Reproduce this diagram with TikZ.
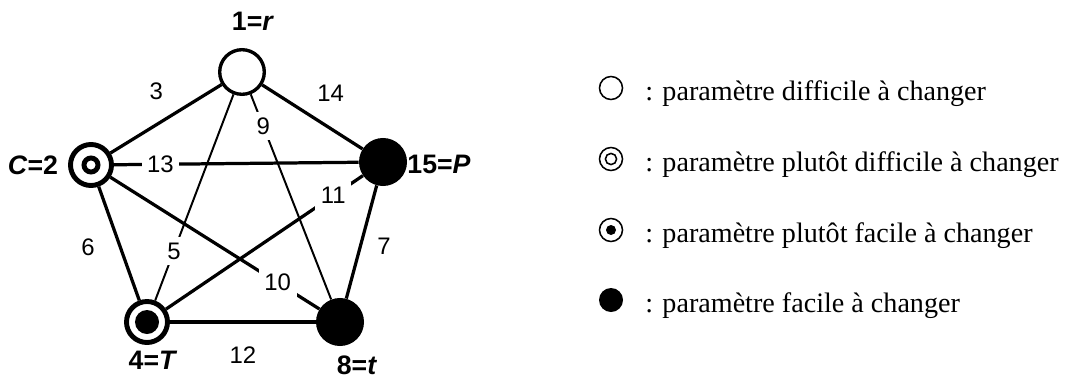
\documentclass[tikz,border=0pt]{standalone}
\usepackage{fontspec}
\setmainfont{Liberation Serif}
\newfontfamily\graphfont{Liberation Sans}
\usetikzlibrary{positioning}

\tikzset{
  open/.style={circle, draw, line width=2.4pt, fill=white, inner sep=0pt, minimum size=1.115cm},
  twoRing/.style={circle, draw, line width=3.5pt, fill=white, inner sep=0pt, minimum size=1.025cm,
    path picture={\draw[line width=3.5pt] (path picture bounding box.center) circle[radius=0.175cm];}},
  ringDot/.style={circle, draw, line width=3.5pt, fill=white, inner sep=0pt, minimum size=1.025cm,
    path picture={\fill[black] (path picture bounding box.center) circle[radius=0.3cm];}},
  full/.style={circle, fill=black, inner sep=0pt, minimum size=1.2cm},
  edge/.style={line width=2.3pt},
  weak/.style={line width=1.4pt},
  elab/.style={font=\graphfont\fontsize{17}{20}\selectfont, inner sep=1pt},
  cut/.style={elab, fill=white, inner sep=4pt},
  pname/.style={font=\graphfont\fontsize{19}{22}\selectfont\bfseries, inner sep=0pt},
  % legend marks
  kOpen/.style={circle, draw, line width=1.1pt, inner sep=0pt, minimum size=0.575cm},
  kTwo/.style={kOpen, path picture={\draw[line width=1.1pt] (path picture bounding box.center) circle[radius=0.14cm];}},
  kDot/.style={kOpen, path picture={\fill[black] (path picture bounding box.center) circle[radius=0.125cm];}},
  kFull/.style={circle, fill=black, inner sep=0pt, minimum size=0.6cm},
  ktext/.style={font=\fontsize{20}{24}\selectfont, anchor=base west, inner sep=0pt}
}

\begin{document}
\begin{tikzpicture}[x=0.025cm, y=-0.025cm]
\useasboundingbox (0,0) rectangle (1083,381);
% Parameters
\node[open] (r) at (242,72) {};
\node[twoRing] (C) at (91,165) {};
\node[full] (P) at (383,162) {};
\node[ringDot] (T) at (147,322) {};
\node[full] (t) at (340,322) {};

% Names
\node[pname] (nr) at (253,21) {1=\textit{r}};
\node[pname] (nC) at (33,165) {\textit{C}=2};
\node[pname] (nP) at (439,164) {15=\textit{P}};
\node[pname] (nT) at (153,360) {4=\textit{T}};
\node[pname] (nt) at (357,365) {8=\textit{t}};

% Links
\draw[edge] (C) -- node[elab, midway, xshift=-7pt, yshift=19.6pt] (e3) {3} (r);
\draw[edge] (r) -- node[elab, midway, xshift=13pt, yshift=17pt] (e14) {14} (P);
\draw[edge] (C) -- node[elab, midway, xshift=-22pt, yshift=-2.5pt] (e6) {6} (T);
\draw[edge] (P) -- node[elab, midway, xshift=16pt, yshift=-3pt] (e7) {7} (t);
\draw[edge, line width=3.5pt] (T) -- node[elab, midway, yshift=-23.5pt] (e12) {12} (t);
\draw[edge] (C) -- node[cut, pos=0.19] (e13) {13} (P);
\draw[edge] (C) -- node[cut, pos=0.8] (e10) {10} (t);
\draw[edge] (T) -- node[cut, pos=0.85] (e11) {11} (P);
\draw[weak] (r) -- node[cut, pos=0.76] (e5) {5} (T);
\draw[weak] (r) -- node[cut, pos=0.155] (e9) {9} (t);

% Legend
\node[kOpen] (k1) at (611,88) {};
\node[kTwo] (k2) at (611,159) {};
\node[kDot] (k3) at (611,230) {};
\node[kFull] (k4) at (611,300) {};
\node[ktext] (d1) at (645,100) {: paramètre difficile à changer};
\node[ktext] (d2) at (645,171) {: paramètre plutôt difficile à changer};
\node[ktext] (d3) at (645,242) {: paramètre plutôt facile à changer};
\node[ktext] (d4) at (645,312) {: paramètre facile à changer};
\end{tikzpicture}
\end{document}
